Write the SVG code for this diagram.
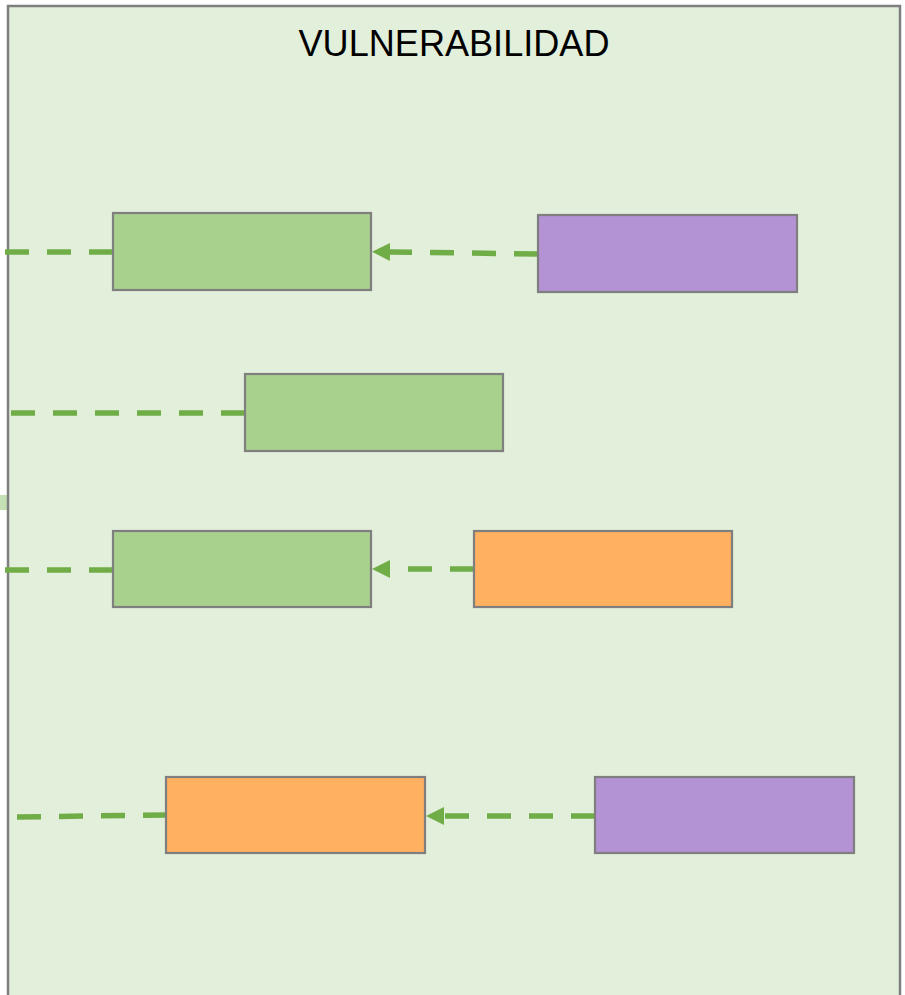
<svg xmlns="http://www.w3.org/2000/svg" width="905" height="995" viewBox="0 0 905 995">
<defs>
<style>
.box{stroke:#7f7f7f;stroke-width:2.2}
.g{fill:#a9d18e}.p{fill:#b393d3}.o{fill:#ffb061}
.c{fill:none;stroke:#70ad47;stroke-width:5.5;stroke-dasharray:24 18}
.t{font-family:"Liberation Sans",Arial,sans-serif;font-size:37px;fill:#000}
</style>
<marker id="ah" markerUnits="userSpaceOnUse" markerWidth="20" markerHeight="20" viewBox="0 0 20 20" refX="0" refY="10" orient="auto">
<polygon points="0,1 18,10 0,19" fill="#70ad47"/>
</marker>
</defs>
<rect width="905" height="995" fill="#ffffff"/>
<rect x="0" y="495" width="8" height="15" fill="#c5e0b4"/>
<g id="container">
<rect x="8" y="6" width="892" height="1000" fill="#e2efda" stroke="#7f7f7f" stroke-width="2.5"/>
<text class="t" x="454" y="56" text-anchor="middle" textLength="311" lengthAdjust="spacingAndGlyphs">VULNERABILIDAD</text>
</g>
<g id="connectors">
<path class="c" d="M113,252 L4,252"/>
<path class="c" d="M538,254 L390,252" marker-end="url(#ah)"/>
<path class="c" d="M245,413 L8,413"/>
<path class="c" d="M113,570 L4,570"/>
<path class="c" d="M474,569 L390,569" marker-end="url(#ah)"/>
<path class="c" d="M167,815 L15,817"/>
<path class="c" d="M595,816 L444,816" marker-end="url(#ah)"/>
</g>
<g id="n1"><rect class="box g" x="113" y="213" width="258" height="77"/></g>
<g id="n2"><rect class="box p" x="538" y="215" width="259" height="77"/></g>
<g id="n3"><rect class="box g" x="245" y="374" width="258" height="77"/></g>
<g id="n4"><rect class="box g" x="113" y="531" width="258" height="76"/></g>
<g id="n5"><rect class="box o" x="474" y="531" width="258" height="76"/></g>
<g id="n6"><rect class="box o" x="166" y="777" width="259" height="76"/></g>
<g id="n7"><rect class="box p" x="595" y="777" width="259" height="76"/></g>
</svg>
